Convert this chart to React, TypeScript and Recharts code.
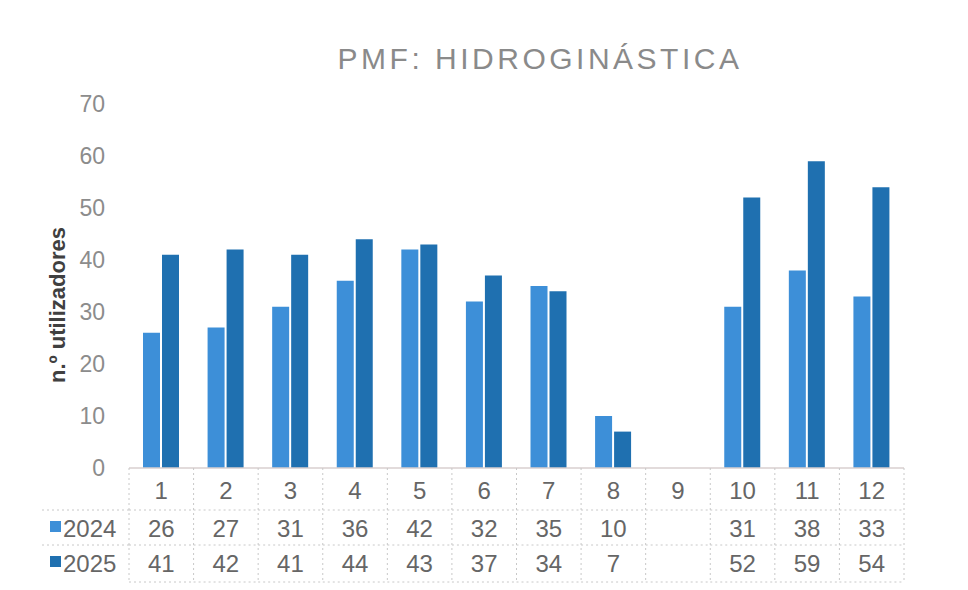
import { BarChart, Bar, XAxis, YAxis } from 'recharts'

const months = ['1', '2', '3', '4', '5', '6', '7', '8', '9', '10', '11', '12']
const users2024: (number | null)[] = [26, 27, 31, 36, 42, 32, 35, 10, null, 31, 38, 33]
const users2025: (number | null)[] = [41, 42, 41, 44, 43, 37, 34, 7, null, 52, 59, 54]
const yTicks = [0, 10, 20, 30, 40, 50, 60, 70]

const C2024 = '#3d8fd8'
const C2025 = '#1f70b0'
const FONT = '"Liberation Sans", Arial, sans-serif'
const GRID = '#c8c8c8'

const data = months.map((m, i) => ({ month: m, y2024: users2024[i], y2025: users2025[i] }))

const CHART_W = 968
const CHART_H = 590
const LEFT = 129
const RIGHT = 64
const COL_W = (CHART_W - LEFT - RIGHT) / months.length

function TableTick(props: any) {
  const { x, y, payload } = props
  const i = payload.index
  const half = COL_W / 2
  const rows = [y + 42, y + 77, y + 114]
  const v24 = users2024[i]
  const v25 = users2025[i]
  return (
    <g fontFamily={FONT} fontSize={24} fill="#666666">
      <line x1={x + half} x2={x + half} y1={y} y2={y + 114} stroke={GRID} strokeDasharray="2 3" />
      {i === 0 && <line x1={x - half} x2={x - half} y1={y} y2={y + 114} stroke={GRID} strokeDasharray="2 3" />}
      {rows.map((ry, k) => (
        <line key={k} x1={x - half} x2={x + half} y1={ry} y2={ry} stroke={GRID} strokeDasharray="2 3" />
      ))}
      <text x={x} y={y + 31} textAnchor="middle">{payload.value}</text>
      <text x={x} y={y + 69} textAnchor="middle">{v24 ?? ''}</text>
      <text x={x} y={y + 104} textAnchor="middle">{v25 ?? ''}</text>
      {i === 0 && (
        <g>
          {rows.slice(0, 2).map((ry, k) => (
            <line key={k} x1={42} x2={x - half} y1={ry} y2={ry} stroke={GRID} strokeDasharray="2 3" />
          ))}
          <rect x={50} y={y + 53} width={11} height={11} fill={C2024} />
          <text x={63} y={y + 69}>2024</text>
          <rect x={50} y={y + 88} width={11} height={11} fill={C2025} />
          <text x={63} y={y + 104}>2025</text>
        </g>
      )}
    </g>
  )
}

function YLabel() {
  return (
    <text
      x={57}
      y={305}
      transform="rotate(-90 57 305)"
      textAnchor="middle"
      dominantBaseline="central"
      fontFamily={FONT}
      fontSize={22}
      fontWeight="bold"
      fill="#404040"
    >
      n.º utilizadores
    </text>
  )
}

export default function App() {
  return (
    <div style={{ position: 'absolute', left: 0, top: 0, width: CHART_W, height: CHART_H, background: '#fff' }}>
      <div
        style={{
          position: 'absolute',
          left: 0,
          width: CHART_W,
          top: 42,
          textAlign: 'center',
          paddingLeft: 112,
          boxSizing: 'border-box',
          fontFamily: FONT,
          fontSize: 30,
          letterSpacing: 3.5,
          color: '#8a8a8a',
        }}
      >
        PMF: HIDROGINÁSTICA
      </div>
      <BarChart
        width={CHART_W}
        height={CHART_H}
        data={data}
        margin={{ top: 104, right: RIGHT, bottom: 0, left: 0 }}
        barSize={17}
        barGap={2}
      >
        <YAxis
          width={LEFT}
          domain={[0, 70]}
          ticks={yTicks}
          axisLine={false}
          tickLine={false}
          tickMargin={18}
          tick={{ fontFamily: FONT, fontSize: 23, fill: '#8c8c8c' }}
          label={<YLabel />}
        />
        <XAxis
          dataKey="month"
          height={122}
          tickSize={0}
          tickMargin={0}
          axisLine={{ stroke: '#d9cfcf', strokeWidth: 1.5 }}
          tickLine={false}
          interval={0}
          tick={<TableTick />}
        />
        <Bar dataKey="y2024" fill={C2024} isAnimationActive={false} />
        <Bar dataKey="y2025" fill={C2025} isAnimationActive={false} />
      </BarChart>
    </div>
  )
}
